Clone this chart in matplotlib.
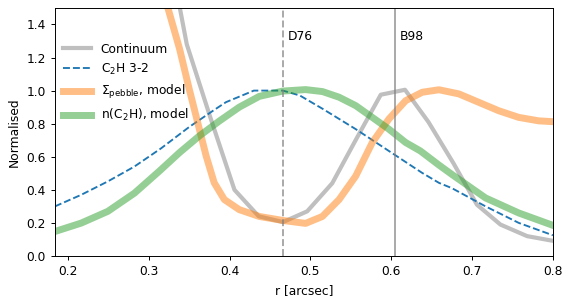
import matplotlib
matplotlib.use("Agg")
import matplotlib.pyplot as plt

plt.rcParams['font.size'] = 8.8

# Continuum (sampled profile)
r_cont = [0.287, 0.317, 0.347, 0.376, 0.406, 0.436, 0.466, 0.496, 0.527, 0.557,
          0.587, 0.617, 0.646, 0.677, 0.706, 0.735, 0.768, 0.796, 0.826]
y_cont = [2.40, 2.05, 1.28, 0.84, 0.40, 0.24, 0.205, 0.27, 0.44, 0.71,
          0.975, 1.005, 0.81, 0.56, 0.31, 0.19, 0.12, 0.095, 0.07]

# C2H 3-2
r_c2h = [0.184, 0.2165, 0.249, 0.282, 0.315, 0.35, 0.38, 0.3955, 0.43, 0.466,
         0.487, 0.515, 0.556, 0.597, 0.638, 0.659, 0.675, 0.7166, 0.7577, 0.80]
y_c2h = [0.30, 0.37, 0.45, 0.54, 0.65, 0.78, 0.88, 0.93, 1.0, 1.0,
         0.97, 0.89, 0.767, 0.635, 0.503, 0.442, 0.41, 0.30, 0.20, 0.125]

# Sigma pebble model
r_peb = [0.300, 0.310, 0.3238, 0.338, 0.350, 0.3605, 0.371, 0.381, 0.3935, 0.412,
         0.4367, 0.4655, 0.494, 0.5148, 0.5354, 0.556, 0.5765, 0.597, 0.6178,
         0.6383, 0.659, 0.6836, 0.7083, 0.733, 0.7577, 0.7824, 0.80]
y_peb = [2.30, 1.75, 1.497, 1.254, 1.01, 0.807, 0.604, 0.442, 0.341, 0.28,
         0.239, 0.215, 0.197, 0.239, 0.341, 0.483, 0.686, 0.828, 0.939,
         0.99, 1.005, 0.98, 0.929, 0.878, 0.838, 0.817, 0.812]

# n(C2H) model
r_nc = [0.184, 0.2165, 0.2494, 0.2823, 0.3135, 0.338, 0.3626, 0.387, 0.412,
        0.4367, 0.4655, 0.494, 0.515, 0.5354, 0.556, 0.5765, 0.597, 0.6178,
        0.636, 0.6589, 0.675, 0.7166, 0.7577, 0.80]
y_nc = [0.148, 0.199, 0.27, 0.38, 0.515, 0.625, 0.726, 0.815, 0.90,
        0.965, 0.997, 1.006, 0.994, 0.96, 0.909, 0.838, 0.767, 0.686,
        0.635, 0.55, 0.493, 0.351, 0.26, 0.185]

vlines = [0.466, 0.605]
vlabels = ["D76", "B98"]
vstyles = ["--", "-"]

fig = plt.figure(figsize=(5.73, 3.04), dpi=100)
ax = fig.add_axes([0.096, 0.158, 0.869, 0.816])

ax.plot(r_cont, y_cont, color='gray', alpha=0.5, lw=3, label='Continuum')
ax.plot(r_c2h, y_c2h, color='tab:blue', ls='--', lw=1.35, label=r'C$_2$H 3-2')
ax.plot(r_peb, y_peb, color='tab:orange', alpha=0.5, lw=5, label=r'$\Sigma_{\rm pebble}$, model')
ax.plot(r_nc, y_nc, color='tab:green', alpha=0.5, lw=5, label=r'n(C$_2$H), model')

for x, lab, ls in zip(vlines, vlabels, vstyles):
    ax.axvline(x, color='gray', alpha=0.7, lw=1.35, ls=ls)
    ax.text(x + 0.006, 1.33, lab, va='center', ha='left')

ax.set_xlim(0.184, 0.8)
ax.set_ylim(0, 1.5)
ax.tick_params(length=3.2, width=0.7)
for s in ax.spines.values():
    s.set_linewidth(0.7)
ax.set_xlabel('r [arcsec]')
ax.set_ylabel('Normalised')
ax.legend(loc='upper left', bbox_to_anchor=(0.016, 0.86), frameon=False,
          borderaxespad=0, borderpad=0, handlelength=2.3, labelspacing=0.5)

fig.savefig('out.png', dpi=100)
